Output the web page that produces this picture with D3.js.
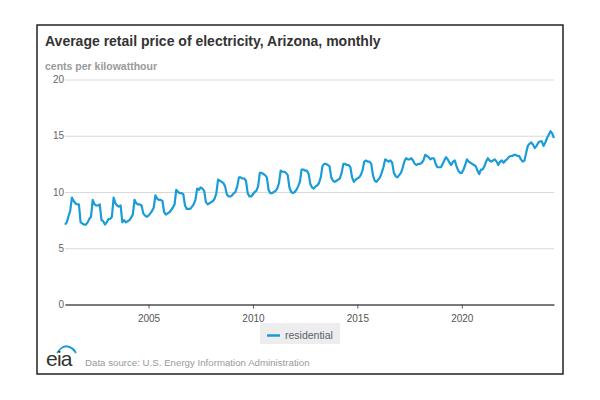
<!DOCTYPE html>
<html>
<head>
<meta charset="utf-8">
<script src="https://cdn.jsdelivr.net/npm/d3@7"></script>
<style>
  body { margin: 0; background: #fff; }
  text { font-family: "Liberation Sans", Arial, sans-serif; }
</style>
</head>
<body>
<script>
// set up chart
var svgWidth = 600;
var svgHeight = 400;

var margin = { top: 79.5, right: 46, bottom: 95.5, left: 65 };

var width = svgWidth - margin.left - margin.right;
var height = svgHeight - margin.top - margin.bottom;

// Chart data (cents per kilowatthour, monthly from Jan 2001)
var startYear = 2001;
var residential = [
  7.1, 7.3, 7.8, 8.3, 9.5, 9.2, 9.0, 8.9, 8.9, 7.3, 7.2, 7.1,          // 2001
  7.1, 7.3, 7.6, 7.8, 9.3, 8.9, 8.8, 8.8, 8.9, 7.5, 7.4, 7.1,          // 2002
  7.3, 7.6, 7.6, 7.8, 9.5, 9.0, 8.8, 8.7, 8.8, 7.3, 7.5, 7.3,          // 2003
  7.4, 7.5, 7.7, 8.0, 9.3, 9.0, 8.9, 8.9, 8.8, 8.1, 7.9, 7.8,          // 2004
  7.9, 8.1, 8.3, 8.6, 9.7, 9.4, 9.3, 9.3, 9.2, 8.2, 8.0, 8.1,          // 2005
  8.2, 8.4, 8.6, 8.9, 10.2, 10.0, 9.9, 9.9, 9.8, 8.8, 8.5, 8.5,        // 2006
  8.5, 8.7, 8.9, 9.3, 10.3, 10.2, 10.4, 10.3, 10.1, 9.1, 8.9, 9.0,     // 2007
  9.1, 9.2, 9.4, 9.9, 11.1, 11.0, 10.9, 10.8, 10.5, 9.8, 9.6, 9.6,     // 2008
  9.7, 9.9, 10.0, 10.5, 11.3, 11.3, 11.2, 11.2, 11.0, 9.9, 9.6, 9.6,   // 2009
  9.8, 10.0, 10.1, 10.5, 11.7, 11.7, 11.6, 11.5, 11.3, 10.2, 9.9, 9.9, // 2010
  10.0, 10.1, 10.3, 10.8, 11.9, 11.8, 11.8, 11.7, 11.5, 10.4, 10.0, 9.9, // 2011
  10.0, 10.2, 10.5, 10.9, 12.0, 12.0, 11.9, 11.9, 11.6, 10.7, 10.4, 10.3, // 2012
  10.5, 10.6, 10.8, 11.3, 12.3, 12.5, 12.5, 12.4, 12.3, 11.3, 11.0, 10.9, // 2013
  11.0, 11.1, 11.2, 11.7, 12.5, 12.5, 12.4, 12.4, 12.2, 11.3, 10.9, 11.1, // 2014
  11.2, 11.3, 11.5, 11.9, 12.7, 12.8, 12.7, 12.7, 12.5, 11.5, 11.0, 10.9, // 2015
  11.1, 11.3, 11.7, 12.2, 12.9, 12.8, 12.7, 12.8, 12.6, 11.7, 11.4, 11.3, // 2016
  11.5, 11.7, 12.1, 12.7, 13.0, 12.9, 12.9, 13.0, 12.8, 12.5, 12.4, 12.5, // 2017
  12.5, 12.6, 12.8, 13.3, 13.2, 13.1, 12.9, 13.0, 13.0, 12.5, 12.2, 12.2, // 2018
  12.2, 12.5, 12.8, 13.1, 12.9, 12.6, 12.4, 12.7, 12.8, 12.3, 11.9, 11.7, // 2019
  11.7, 12.0, 12.4, 12.9, 12.7, 12.6, 12.5, 12.4, 12.3, 11.9, 11.6, 12.0, // 2020
  12.0, 12.3, 12.7, 13.0, 12.8, 12.7, 12.8, 12.9, 12.7, 12.4, 12.7, 12.8, // 2021
  12.6, 12.8, 12.9, 13.1, 13.2, 13.2, 13.3, 13.3, 13.2, 13.2, 12.9, 12.7, // 2022
  12.8, 13.5, 14.1, 14.3, 14.4, 14.2, 13.9, 14.1, 14.4, 14.5, 14.5, 14.1, // 2023
  14.4, 14.8, 15.1, 15.4, 15.2, 14.8                                     // 2024
];

var yTicks = [0, 5, 10, 15, 20];
var xTickYears = [2005, 2010, 2015, 2020];
var seriesName = "residential";

var chartData = residential.map(function(v, i) {
  return { date: new Date(startYear, i, 1), value: v };
});

var svg = d3.select("body")
  .append("svg")
  .attr("width", svgWidth)
  .attr("height", svgHeight);

// frame
svg.append("rect")
  .attr("x", 37)
  .attr("y", 25)
  .attr("width", 526)
  .attr("height", 349)
  .attr("fill", "#fff")
  .attr("stroke", "#222")
  .attr("stroke-width", 1.5);

// titles
svg.append("text")
  .attr("x", 45)
  .attr("y", 46)
  .style("font-size", "14px")
  .style("font-weight", "bold")
  .attr("fill", "#333")
  .text("Average retail price of electricity, Arizona, monthly");

svg.append("text")
  .attr("x", 45)
  .attr("y", 70)
  .style("font-size", "10.5px")
  .style("font-weight", "bold")
  .attr("fill", "#999")
  .text("cents per kilowatthour");

var chartGroup = svg.append("g")
  .attr("transform", `translate(${margin.left}, ${margin.top})`);

// scales
var xTimeScale = d3.scaleTime()
  .domain(d3.extent(chartData, d => d.date))
  .range([0, width]);

var yLinearScale = d3.scaleLinear()
  .domain([0, 20])
  .range([height, 0]);

// gridlines + y labels
var leftAxis = d3.axisLeft(yLinearScale)
  .tickValues(yTicks)
  .tickSize(-width)
  .tickPadding(1);

var yAxis = chartGroup.append("g")
  .call(leftAxis);
yAxis.select(".domain").remove();
yAxis.selectAll(".tick line").attr("stroke", "#d9d9d9");
yAxis.selectAll(".tick text")
  .attr("fill", "#666")
  .style("font-size", "10px");

// x axis
var bottomAxis = d3.axisBottom(xTimeScale)
  .tickValues(xTickYears.map(y => new Date(y, 0, 1)))
  .tickFormat(d3.timeFormat("%Y"))
  .tickSizeInner(4)
  .tickSizeOuter(0)
  .tickPadding(6);

var xAxis = chartGroup.append("g")
  .attr("transform", `translate(0, ${height})`)
  .call(bottomAxis);
xAxis.select(".domain").attr("stroke", "#555").attr("stroke-width", 1.3);
xAxis.selectAll(".tick line").attr("stroke", "#555");
xAxis.selectAll(".tick text")
  .attr("fill", "#555")
  .style("font-size", "10px");

// the line
var line = d3.line()
  .x(d => xTimeScale(d.date))
  .y(d => yLinearScale(d.value));

chartGroup.append("path")
  .datum(chartData)
  .attr("d", line)
  .attr("fill", "none")
  .attr("stroke", "#1a9cd8")
  .attr("stroke-width", 2.2)
  .attr("stroke-linejoin", "round");

// legend
var legend = svg.append("g")
  .attr("transform", "translate(260, 323)");

legend.append("rect")
  .attr("width", 80)
  .attr("height", 21)
  .attr("fill", "#ededed");

legend.append("line")
  .attr("x1", 7)
  .attr("x2", 20)
  .attr("y1", 12.5)
  .attr("y2", 12.5)
  .attr("stroke", "#1a9cd8")
  .attr("stroke-width", 2.5);

legend.append("text")
  .attr("x", 25)
  .attr("y", 12.5)
  .attr("dy", "0.35em")
  .style("font-size", "10.5px")
  .attr("fill", "#56626e")
  .text(seriesName);

// eia logo and source
svg.append("path")
  .attr("d", "M57,353 Q66,340 76,353 Q74,347 66,346 Q61,347 57,353 Z")
  .attr("fill", "#1a9cd8")
  .attr("stroke", "#1a9cd8")
  .attr("stroke-width", 1.5);

svg.append("text")
  .attr("x", 46)
  .attr("y", 366)
  .style("font-size", "21px")
  .style("letter-spacing", "-0.8px")
  .attr("fill", "#333")
  .text("eia");

svg.append("text")
  .attr("x", 85)
  .attr("y", 366)
  .style("font-size", "9.7px")
  .attr("fill", "#999")
  .text("Data source: U.S. Energy Information Administration");
</script>
</body>
</html>
